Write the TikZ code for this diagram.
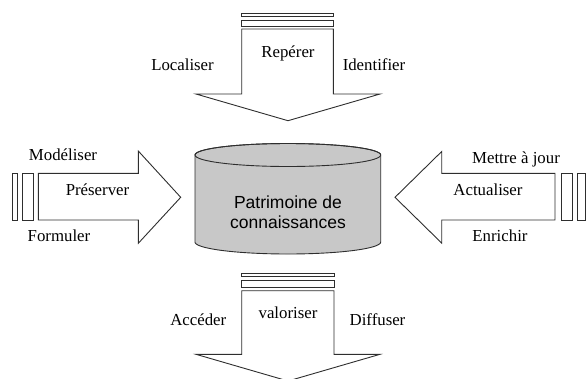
\documentclass[tikz,border=0pt]{standalone}
\usepackage{fontspec}
\setmainfont{Liberation Serif}
\newfontfamily\cylfont{Liberation Sans}
\definecolor{cylgray}{HTML}{C8C8C8}
\definecolor{edgegray}{HTML}{2E2E2E}
\tikzset{
  blockarrow/.style={draw=edgegray, line width=0.9pt, fill=white, line join=miter},
  stripe/.style={draw=edgegray, line width=0.9pt},
  lbl/.style={font=\fontsize{16.8}{20}\selectfont, inner sep=0pt, anchor=base},
  cyltext/.style={font=\cylfont\fontsize{17.5}{21}\selectfont, inner sep=0pt, anchor=base}
}
\begin{document}
\begin{tikzpicture}[x=1pt, y=-1pt]
  \useasboundingbox (0,0) rectangle (586,378);
  % top arrow
  \draw[stripe] (241.7,13) rectangle (333.3,16);
  \draw[stripe] (241.7,20) rectangle (333.3,26);
  \draw[blockarrow] (241.7,29) -- (241.7,94) -- (196,94) -- (288,120.7) -- (380,94) -- (333.3,94) -- (333.3,29) -- cycle;
  % bottom arrow
  \draw[stripe] (241.7,273.3) rectangle (334,276.7);
  \draw[stripe] (241.7,280.7) rectangle (334,287.3);
  \draw[blockarrow] (241.7,290.7) -- (241.7,354.3) -- (196,354.3) -- (288,381) -- (380,354.3) -- (334,354.3) -- (334,290.7) -- cycle;
  % left arrow
  \draw[stripe] (12.3,173.3) rectangle (17.7,220);
  \draw[stripe] (22.3,173.3) rectangle (33.3,220);
  \draw[blockarrow] (38.3,173.3) -- (138.3,173.3) -- (138.3,151) -- (180.7,197.3) -- (138.3,243.3) -- (138.3,220) -- (38.3,220) -- cycle;
  % right arrow
  \draw[stripe] (561.7,173.3) rectangle (572.3,220);
  \draw[stripe] (577,173.3) rectangle (585,220);
  \draw[blockarrow] (555,173.3) -- (441.7,173.3) -- (441.7,151.5) -- (395,197.3) -- (441.7,243.1) -- (441.7,220) -- (555,220) -- cycle;
  % cylinder
  \draw[blockarrow, fill=cylgray] (195,155) -- plot[domain=180:360, samples=80] ({287.85+92.85*cos(\x)}, {242-12*sin(\x)})
    -- (380.7,155) -- plot[domain=0:180, samples=80] ({287.85+92.85*cos(\x)}, {155-11.5*sin(\x)}) -- cycle;
  \draw[blockarrow, fill=none] (287.85,155) ellipse [x radius=92.85, y radius=11.5];
  \node[cyltext] (patrimoine) at (288,208.5) {Patrimoine de};
  \node[cyltext] (connaissances) at (288,228.5) {connaissances};
  % labels
  \node[lbl] (localiser) at (182.5,70) {Localiser};
  \node[lbl] (reperer) at (288,57.3) {Repérer};
  \node[lbl] (identifier) at (374,70) {Identifier};
  \node[lbl] (modeliser) at (63,160.7) {Modéliser};
  \node[lbl] (preserver) at (97.5,195.3) {Préserver};
  \node[lbl] (formuler) at (59,241.7) {Formuler};
  \node[lbl] (mettre) at (516,163.3) {Mettre à jour};
  \node[lbl] (actualiser) at (488,195) {Actualiser};
  \node[lbl] (enrichir) at (500,241.7) {Enrichir};
  \node[lbl] (acceder) at (198.3,325) {Accéder};
  \node[lbl] (valoriser) at (288,318.3) {valoriser};
  \node[lbl] (diffuser) at (377.5,325) {Diffuser};
\end{tikzpicture}
\end{document}
